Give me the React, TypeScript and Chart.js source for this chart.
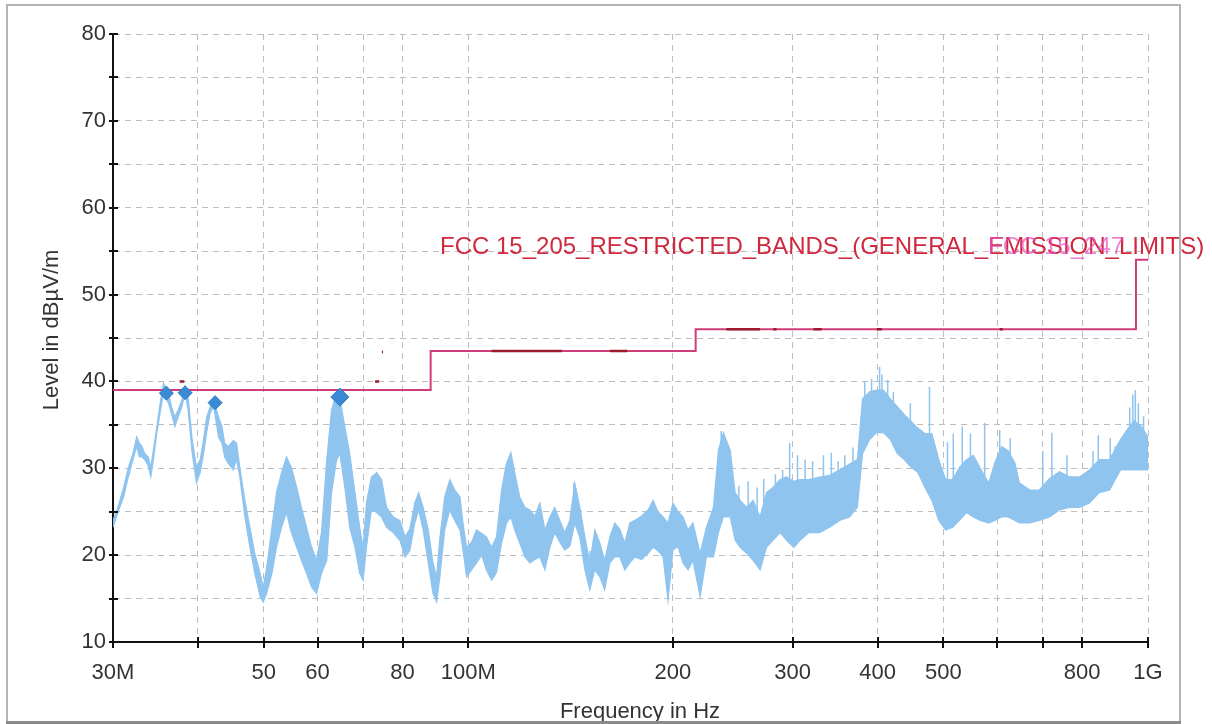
import React, { useEffect, useRef } from 'react';
import { Chart, registerables } from 'chart.js';

Chart.register(...registerables);

// ---- Measurement trace envelope: 30–80 MHz ----
const freqLow = [
  30.0, 30.5, 31.1, 31.6, 32.1, 32.5, 32.8, 33.1, 33.4, 33.8, 34.1, 34.4, 34.8, 35.2, 35.6, 36.2, 36.6, 37.0, 37.4, 37.9,
  38.3, 38.7, 39.2, 39.8, 40.3, 40.7, 41.2, 41.7, 42.2, 42.9, 43.4, 43.8, 44.3, 45.1, 45.6, 46.1, 46.9, 47.7, 48.5, 49.4,
  49.9, 50.5, 51.4, 52.2, 53.1, 54.0, 54.9, 55.9, 56.8, 57.8, 58.8, 59.8, 60.8, 61.9, 62.9, 64.0, 64.7, 65.8, 66.9, 68.1,
  69.2, 70.0, 70.8, 72.0, 73.3, 74.5, 75.8, 77.5, 79.3,
];
const peakLow = [
  24.0, 25.5, 27.8, 30.1, 31.7, 33.6, 32.9, 32.5, 31.7, 31.3, 30.1, 32.1, 34.8, 37.5, 39.8, 38.7, 37.0, 35.9, 36.7, 37.9,
  39.4, 38.2, 33.5, 30.1, 31.0, 32.9, 35.9, 37.1, 38.0, 35.9, 34.8, 32.9, 32.5, 33.2, 32.9, 30.1, 26.3, 23.2, 20.2, 17.9,
  16.3, 18.6, 23.2, 27.2, 29.5, 31.3, 30.1, 27.8, 25.5, 23.2, 20.9, 19.4, 22.6, 31.0, 36.7, 38.7, 38.0, 34.8, 31.7, 27.2,
  23.2, 20.9, 26.0, 29.0, 29.5, 28.7, 25.5, 24.4, 24.0,
];
const floorLow = [
  23.2, 24.9, 26.7, 29.0, 31.0, 32.5, 31.3, 31.3, 31.0, 30.3, 29.0, 31.0, 34.1, 36.4, 38.7, 37.5, 36.2, 34.8, 35.9, 37.1,
  38.7, 36.7, 32.0, 28.3, 29.5, 31.3, 34.1, 36.4, 37.1, 33.6, 32.9, 31.3, 30.6, 29.8, 31.0, 29.0, 24.4, 20.9, 17.9, 15.2,
  14.6, 15.6, 17.9, 20.9, 23.2, 24.9, 22.6, 20.9, 19.4, 17.9, 16.3, 15.6, 17.9, 19.4, 27.2, 31.0, 31.7, 27.8, 23.2, 20.9,
  17.9, 17.1, 20.9, 25.2, 24.9, 24.4, 23.2, 22.6, 21.7,
];

// ---- 80–215 MHz ----
const freqMid = [
  80.7, 82.0, 83.4, 84.5, 85.8, 87.3, 88.7, 89.8, 90.8, 92.3, 93.9, 95.5, 97.2, 98.2, 99.4, 101.1, 102.8, 104.6, 106.3, 108.2,
  110.0, 111.9, 113.8, 115.5, 117.0, 119.0, 121.1, 123.2, 125.3, 127.4, 129.6, 131.8, 134.0, 136.3, 138.6, 141.0, 143.4, 145.9, 148.4, 150.9,
  153.5, 156.1, 158.7, 161.5, 164.2, 167.0, 169.9, 172.8, 175.7, 179.8, 183.8, 187.0, 190.1, 193.4, 196.7, 200.0, 203.5, 206.9, 210.5, 214.0,
];
const peakMid = [
  22.1, 23.0, 26.0, 27.2, 25.5, 22.9, 19.1, 17.5, 22.0, 26.7, 28.7, 27.5, 26.7, 23.7, 20.9, 21.5, 22.9, 22.5, 22.1, 20.9,
  22.1, 27.5, 30.6, 31.8, 29.5, 26.7, 25.5, 25.2, 24.5, 26.0, 22.9, 24.4, 25.5, 24.0, 22.6, 24.0, 28.3, 25.5, 22.1, 19.1,
  22.9, 21.4, 19.4, 22.1, 23.7, 23.0, 21.4, 23.7, 24.0, 24.5, 25.2, 26.3, 25.0, 24.4, 23.7, 26.0, 25.0, 24.4, 22.9, 23.7,
];
const floorMid = [
  19.8, 20.5, 23.7, 25.2, 22.9, 19.1, 15.6, 14.6, 17.5, 22.9, 25.2, 24.0, 22.9, 20.6, 17.5, 18.3, 19.1, 20.0, 18.3, 17.1,
  18.0, 21.4, 23.7, 24.4, 22.9, 21.4, 19.8, 19.1, 19.5, 19.8, 18.3, 20.9, 22.6, 21.5, 20.6, 21.0, 23.7, 22.0, 18.3, 16.0,
  18.3, 17.5, 16.0, 19.1, 19.8, 19.8, 18.3, 19.1, 19.8, 19.5, 20.2, 20.9, 20.5, 19.8, 14.8, 20.6, 21.0, 19.1, 18.3, 19.4,
];

// ---- 215–1000 MHz ----
const freqHigh = [
  219.3, 224.0, 229.4, 233.3, 237.3, 242.8, 246.9, 251.1, 256.8, 262.4, 268.7, 274.6, 280.6, 287.6, 293.9, 301.2, 307.6, 317.0, 328.7, 340.0,
  351.7, 363.8, 373.6, 380.2, 389.4, 398.6, 408.1, 417.8, 427.7, 437.8, 448.2, 458.8, 469.7, 480.8, 492.2, 503.9, 515.8, 528.0, 540.6, 553.4,
  566.5, 583.0, 595.0, 609.0, 623.0, 637.0, 647.0, 670.0, 692.0, 716.0, 741.0, 767.0, 793.0, 820.0, 848.0, 878.0, 911.0, 933.0, 954.0, 978.0,
  1000.0,
];
const peakHigh = [
  20.2, 23.2, 25.5, 32.1, 34.1, 32.1, 27.2, 26.3, 25.5, 26.3, 24.4, 27.2, 27.8, 28.7, 29.0, 28.5, 28.7, 28.7, 29.0, 29.2,
  29.8, 30.5, 31.0, 38.0, 38.8, 39.0, 39.0, 38.0, 37.1, 36.2, 35.4, 34.6, 34.0, 34.0, 31.0, 28.7, 28.7, 30.1, 31.0, 31.5,
  30.0, 28.3, 30.6, 32.5, 32.0, 30.6, 28.3, 27.5, 27.5, 28.8, 29.6, 29.0, 29.0, 29.8, 31.0, 31.0, 33.3, 34.5, 35.5, 34.8,
  33.6,
];
const floorHigh = [
  15.2, 19.8, 19.8, 22.6, 24.4, 24.4, 21.7, 20.9, 20.2, 19.4, 18.3, 20.9, 21.7, 22.6, 21.7, 20.9, 21.7, 22.6, 22.6, 23.2,
  24.0, 24.4, 25.5, 31.7, 33.3, 34.1, 34.1, 33.3, 31.7, 31.0, 30.1, 29.5, 27.8, 26.3, 24.0, 22.9, 23.2, 24.0, 24.9, 24.4,
  24.0, 23.7, 24.0, 24.4, 24.4, 24.0, 23.7, 23.7, 24.0, 24.4, 25.2, 25.5, 25.5, 26.0, 27.2, 27.5, 29.8, 29.8, 29.8, 29.8,
  29.8,
];

// ---- Single spikes above / below the dense band ----
const spikeFreq = [
  113.5, 143.0, 151.0, 197.0, 235.5, 250, 258, 266, 272, 283, 290, 297, 305, 313, 321, 333, 342, 350, 358, 368,
  383, 392, 402.8, 406, 414, 422, 447, 477, 507, 517, 533, 548, 575, 605, 627, 700, 722, 760, 830, 845,
  880, 895, 940, 950, 958, 968, 985,
];
const spikeTop = [
  30.2, 28.3, 20.5, 23.0, 34.3, 28.0, 28.5, 27.8, 28.8, 29.3, 29.8, 32.9, 31.5, 31.0, 30.8, 31.5, 31.8, 30.8, 31.5, 32.4,
  40.0, 40.3, 41.7, 40.8, 40.2, 38.8, 37.5, 39.4, 33.0, 34.0, 34.8, 34.0, 35.2, 34.4, 33.5, 32.0, 34.1, 31.5, 32.0, 33.8,
  33.5, 32.5, 37.0, 38.5, 39.0, 37.5, 36.0,
];
const spikeBase = [
  26.0, 24.0, 16.0, 17.5, 30.0, 24.0, 24.5, 24.0, 25.0, 25.5, 26.0, 27.5, 27.5, 27.5, 27.5, 28.0, 28.5, 28.5, 29.0, 29.5,
  37.0, 38.0, 38.5, 38.5, 37.5, 37.0, 34.5, 33.0, 28.0, 28.5, 30.0, 30.5, 28.5, 32.0, 31.5, 27.0, 28.5, 28.5, 29.5, 30.5,
  30.5, 30.5, 34.0, 35.0, 35.0, 34.5, 34.0,
];

// ---- Limit line ----
const limitFreq = [30, 88, 216, 960, 1000];
const limitLevel = [39.0, 43.5, 46.0, 54.0, 54.0];

// ---- Restricted band fragments ----
const rbStart = [37.6, 72.9, 74.6, 108.2, 161.6, 239.7, 281, 322, 399, 605];
const rbEnd = [38.2, 73.9, 74.9, 137.3, 171.3, 268.7, 284, 331, 406, 611];
const rbLevel = [40.0, 40.0, 43.4, 43.5, 43.5, 46.0, 46.0, 46.0, 46.0, 46.0];

// ---- Final measurement markers ----
const markerFreq = [35.95, 38.3, 42.4, 64.7];
const markerLevel = [38.65, 38.7, 37.55, 38.2];
const markerSize = [7, 7, 7, 9];

// ---- Axes ----
const xTickValues = [30, 40, 50, 60, 70, 80, 100, 200, 300, 400, 500, 600, 700, 800, 1000];
const xTickLabels = ['30M', '', '50', '60', '', '80', '100M', '200', '300', '400', '500', '', '', '800', '1G'];
const yMin = 10;
const yMax = 80;
const yStep = 5;

const limitTitle = 'FCC 15_205_RESTRICTED_BANDS_(GENERAL_EMISSION_LIMITS)';
const overlapTitle = 'FCC 15_247';
const xTitle = 'Frequency in Hz';
const yTitle = 'Level in dB\u00b5V/m';

const FONT = '"Liberation Sans", Arial, sans-serif';
const TRACE = '#8fc4ef';

export default function App() {
  const ref = useRef<HTMLCanvasElement>(null);

  useEffect(() => {
    const canvas = ref.current;
    if (!canvas) return;

    const freqMHz = [...freqLow, ...freqMid, ...freqHigh];
    const peakLevel = [...peakLow, ...peakMid, ...peakHigh];
    const floorLevel = [...floorLow, ...floorMid, ...floorHigh];

    const envTop = freqMHz.map((f, i) => ({ x: f, y: peakLevel[i] }));
    const envBot = freqMHz.map((f, i) => ({ x: f, y: floorLevel[i] }));
    const spikes: any[] = [];
    spikeFreq.forEach((f, i) => {
      spikes.push({ x: f, y: spikeBase[i] }, { x: f, y: spikeTop[i] }, { x: f, y: null });
    });
    const rb: any[] = [];
    rbStart.forEach((s, i) => {
      rb.push({ x: s, y: rbLevel[i] }, { x: rbEnd[i], y: rbLevel[i] }, { x: rbEnd[i], y: null });
    });

    const decor = {
      id: 'decor',
      beforeDraw(chart: any) {
        const c = chart.ctx;
        c.save();
        c.fillStyle = '#fff';
        c.fillRect(0, 0, chart.width, chart.height);
        c.restore();
      },
      afterDraw(chart: any) {
        const c = chart.ctx;
        const xs = chart.scales.x;
        const ys = chart.scales.y;
        const area = chart.chartArea;
        c.save();
        c.strokeStyle = '#111';
        c.lineWidth = 2;
        c.beginPath();
        xs.ticks.forEach((t: any) => {
          const px = Math.round(xs.getPixelForValue(t.value));
          c.moveTo(px, area.bottom - 5);
          c.lineTo(px, area.bottom + 6);
        });
        ys.ticks.forEach((t: any) => {
          const py = Math.round(ys.getPixelForValue(t.value));
          c.moveTo(area.left - 4, py);
          c.lineTo(area.left + 5, py);
        });
        c.stroke();

        c.font = '24px ' + FONT;
        c.textBaseline = 'middle';
        c.textAlign = 'left';
        c.fillStyle = '#d0283e';
        c.fillText(limitTitle, 440, 247);
        c.globalAlpha = 0.7;
        c.fillStyle = '#e64fc0';
        c.fillText(overlapTitle, 988, 247);
        c.globalAlpha = 1;

        c.fillStyle = '#333';
        c.font = '22px ' + FONT;
        c.textAlign = 'center';
        c.fillText(xTitle, 640, 712);
        c.save();
        c.translate(52, 330);
        c.rotate(-Math.PI / 2);
        c.fillText(yTitle, 0, 0);
        c.restore();

        c.strokeStyle = '#b4b4b4';
        c.lineWidth = 2;
        c.beginPath();
        c.moveTo(7, 722);
        c.lineTo(7, 5);
        c.lineTo(1180, 5);
        c.lineTo(1180, 722);
        c.stroke();
        c.strokeStyle = '#8a8a8a';
        c.lineWidth = 3;
        c.beginPath();
        c.moveTo(6, 722.5);
        c.lineTo(1181, 722.5);
        c.stroke();
        c.restore();
      },
    };

    const chart = new Chart(canvas, {
      type: 'line',
      data: {
        datasets: [
          {
            label: 'peak',
            data: envTop,
            borderColor: TRACE,
            backgroundColor: TRACE,
            borderWidth: 1.2,
            pointRadius: 0,
            fill: false,
            order: 5,
          },
          {
            label: 'floor',
            data: envBot,
            borderColor: TRACE,
            backgroundColor: TRACE,
            borderWidth: 1.2,
            pointRadius: 0,
            fill: '-1',
            order: 5,
          },
          {
            label: 'spikes',
            data: spikes,
            borderColor: TRACE,
            borderWidth: 1.5,
            pointRadius: 0,
            spanGaps: false,
            fill: false,
            order: 4,
          },
          {
            label: 'limit',
            data: limitFreq.map((f, i) => ({ x: f, y: limitLevel[i] })),
            borderColor: '#cf3c7c',
            borderWidth: 2,
            pointRadius: 0,
            stepped: 'before',
            fill: false,
            order: 3,
          },
          {
            label: 'restricted',
            data: rb,
            borderColor: '#9c1c2e',
            borderWidth: 2.5,
            pointRadius: 0,
            spanGaps: false,
            fill: false,
            order: 2,
          },
          {
            label: 'markers',
            data: markerFreq.map((f, i) => ({ x: f, y: markerLevel[i] })),
            showLine: false,
            pointStyle: 'rectRot',
            pointRadius: markerSize,
            pointBackgroundColor: '#3b8bd4',
            pointBorderColor: '#2f7cc4',
            pointBorderWidth: 1,
            order: 1,
          },
        ] as any,
      },
      options: {
        responsive: false,
        devicePixelRatio: 1,
        animation: false,
        events: [],
        layout: { padding: { left: 0, top: 34, right: 64, bottom: 0 } },
        plugins: { legend: { display: false }, tooltip: { enabled: false } },
        elements: { line: { tension: 0 } },
        scales: {
          x: {
            type: 'logarithmic',
            min: 30,
            max: 1000,
            afterBuildTicks: (s: any) => {
              s.ticks = xTickValues.map((v) => ({ value: v }));
            },
            afterFit: (s: any) => {
              s.height = 82;
            },
            ticks: {
              autoSkip: false,
              maxRotation: 0,
              minRotation: 0,
              padding: 18,
              color: '#333',
              font: { family: FONT, size: 22 },
              callback: (v: any) => {
                const i = xTickValues.indexOf(Number(v));
                return i >= 0 ? xTickLabels[i] : '';
              },
            },
            grid: { color: '#bdbdbd', lineWidth: 1, drawTicks: false },
            border: { display: true, color: '#111', width: 2, dash: [6, 5] },
          },
          y: {
            type: 'linear',
            min: yMin,
            max: yMax,
            afterFit: (s: any) => {
              s.width = 113;
            },
            ticks: {
              stepSize: yStep,
              padding: 7,
              color: '#333',
              font: { family: FONT, size: 22 },
              callback: (v: any) => (Number(v) % 10 === 0 ? String(v) : ''),
            },
            grid: { color: '#bdbdbd', lineWidth: 1, drawTicks: false },
            border: { display: true, color: '#111', width: 2, dash: [6, 5] },
          },
        },
      } as any,
      plugins: [decor],
    });

    return () => chart.destroy();
  }, []);

  return (
    <div style={{ position: 'absolute', left: 0, top: 0, width: 1212, height: 724, background: '#fff' }}>
      <canvas ref={ref} width={1212} height={724} style={{ display: 'block', width: 1212, height: 724 }} />
    </div>
  );
}
